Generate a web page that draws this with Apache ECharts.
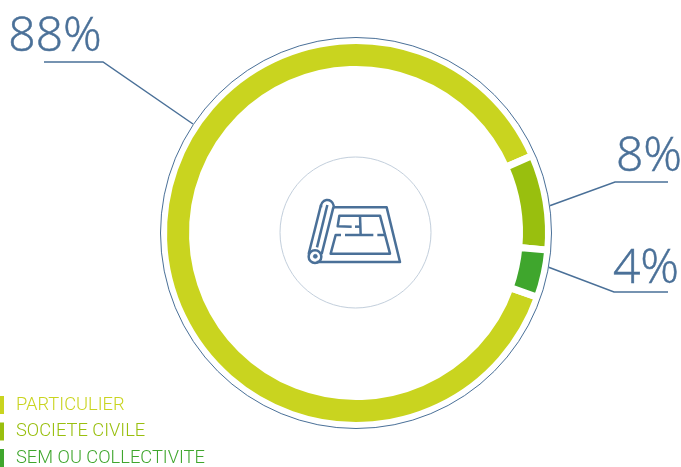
<!DOCTYPE html>
<html>
<head>
<meta charset="utf-8">
<style>
  html, body { margin: 0; padding: 0; background: #fff; }
  #chart { width: 681px; height: 467px; }
</style>
<script src="https://cdn.jsdelivr.net/npm/echarts@6/dist/echarts.min.js"></script>
</head>
<body>
<div id="chart"></div>
<script>
// Share of projects by client type
const categories = ['PARTICULIER', 'SOCIETE CIVILE', 'SEM OU COLLECTIVITE'];
const shares = [88, 8, 4];
const sliceColors = ['#c9d41f', '#99bf0e', '#3fa62d'];

const ink = '#4a7098';
const center = [356, 233];

// Placement of the percentage captions and their elbow leader lines
const callouts = [
  { x: 55, y: 61, line: [[193, 124], [103, 62], [44, 62]] },
  { x: 649, y: 181, line: [[549, 206], [615, 182], [668, 182]] },
  { x: 646, y: 293, line: [[548, 267], [614, 292], [668, 292]] }
];

// Rolled floor plan drawn in the middle of the ring, in a 3x local grid
const planLines = [
  [[190, 172], [350, 172], [390, 336], [140, 336]],
  [[153, 165], [116, 312]],
  [[190, 172], [155, 312]],
  [[172, 165], [141, 292]],
  [[245, 230], [203, 229], [208, 197], [330, 197], [360, 311], [182, 311], [197, 255], [213, 255]],
  [[225, 255], [310, 255]],
  [[322, 255], [345, 255]],
  [[255, 230], [271, 230]],
  [[270, 197], [272, 255]]
];
const planStroke = { fill: 'none', stroke: ink, lineWidth: 7.5, lineJoin: 'round' };
const planShapes = [
  ...planLines.map((points) => ({
    type: 'polyline', shape: { points }, style: planStroke
  })),
  { type: 'arc', shape: { cx: 172, cy: 169, r: 19, startAngle: Math.PI * 0.95, endAngle: Math.PI * 2.08 }, style: planStroke },
  { type: 'circle', shape: { cx: 135, cy: 320, r: 19 }, style: planStroke },
  { type: 'circle', shape: { cx: 136, cy: 319, r: 6 }, style: { fill: ink, stroke: ink, lineWidth: 2 } }
];

const chart = echarts.init(document.getElementById('chart'), null, { renderer: 'canvas' });

chart.setOption({
  animation: false,
  backgroundColor: '#fff',
  legend: {
    left: 0,
    top: 396,
    height: 120,
    padding: 0,
    orient: 'vertical',
    icon: 'rect',
    itemWidth: 4,
    itemHeight: 18,
    itemGap: 8.5,
    selectedMode: false,
    itemStyle: { borderWidth: 0 },
    textStyle: { fontFamily: 'Roboto', fontWeight: 300, fontSize: 18.3, padding: [1, 0, 0, 7] },
    data: categories.map((name, i) => ({ name, textStyle: { color: sliceColors[i] } }))
  },
  graphic: [
    { type: 'circle', z: 10, silent: true, shape: { cx: center[0], cy: center[1], r: 195.5 },
      style: { fill: 'none', stroke: ink, lineWidth: 1 } },
    { type: 'circle', z: 10, silent: true, shape: { cx: 355.5, cy: 232.5, r: 75.5 },
      style: { fill: 'none', stroke: '#c3cfdc', lineWidth: 1 } },
    { type: 'group', z: 10, silent: true, x: 270, y: 150, scaleX: 1 / 3, scaleY: 1 / 3, children: planShapes }
  ],
  series: [{
    type: 'pie',
    center: center,
    radius: [163.5, 192.5],
    startAngle: 340.5,
    clockwise: true,
    silent: true,
    avoidLabelOverlap: false,
    itemStyle: { borderColor: '#fff', borderWidth: 7 },
    label: {
      show: true,
      formatter: '{c}%',
      fontFamily: 'Open Sans',
      fontWeight: 300,
      fontSize: 48,
      color: ink,
      textBorderColor: ink,
      textBorderWidth: 0.5
    },
    labelLine: { show: true, smooth: false, lineStyle: { color: ink, width: 1.5 } },
    labelLayout: (params) => {
      const c = callouts[params.dataIndex];
      return { x: c.x, y: c.y, align: 'center', verticalAlign: 'bottom', labelLinePoints: c.line };
    },
    data: categories.map((name, i) => ({
      name,
      value: shares[i],
      itemStyle: { color: sliceColors[i] }
    }))
  }]
});
</script>
</body>
</html>
